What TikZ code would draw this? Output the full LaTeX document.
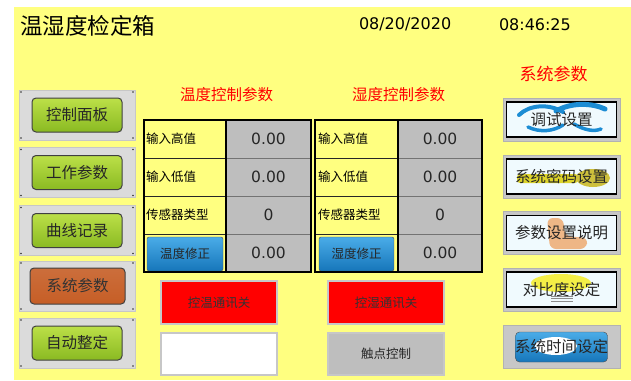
\documentclass[tikz,border=0pt]{standalone}
\usepackage{fontspec}
\usepackage{tikz}
\newfontfamily\cjk{Noto Sans CJK SC}
\newfontfamily\num{DejaVu Sans}
\definecolor{panel}{RGB}{255,255,128}
\definecolor{greenhi}{RGB}{188,224,72}
\definecolor{greenlo}{RGB}{138,186,34}
\definecolor{orangebtn}{RGB}{198,94,38}
\definecolor{bluehi}{RGB}{74,172,232}
\definecolor{bluelo}{RGB}{22,118,186}
\definecolor{cellgray}{RGB}{190,190,190}
\definecolor{olive}{RGB}{206,192,60}
\definecolor{tan}{RGB}{238,182,134}
\definecolor{lamp}{RGB}{244,238,70}
\definecolor{swoosh}{RGB}{28,140,212}

\begin{document}
\begin{tikzpicture}[x=1pt,y=-1pt,
    every node/.style={inner sep=0pt,outer sep=0pt},
    zh/.style={font=\cjk\fontsize{#1}{#1}\selectfont},
    lframe/.style={draw=black!22,fill=black!14,minimum width=116,minimum height=50},
    greenbtn/.style={draw=black!75,line width=1,rounded corners=4,top color=greenhi,bottom color=greenlo,minimum width=90,minimum height=34},
    cellL/.style={draw=black!85,fill=panel,minimum width=82,minimum height=38},
    cellV/.style={draw=black!55,fill=cellgray,minimum width=85,minimum height=38},
    bluebtn/.style={draw=black!70,rounded corners=2,top color=bluehi,bottom color=bluelo,minimum width=76,minimum height=34},
    switchbox/.style={draw=black!22,line width=1.2,minimum width=116,minimum height=43},
    rframe/.style={draw=black!30,fill=black!22,minimum width=117,minimum height=43},
    rinner/.style={draw=black,line width=1.8,fill=white!94!cyan,minimum width=110,minimum height=35},
    value/.style={font=\num\fontsize{15.5}{16}\selectfont,text=black!85}]

    \fill[white] (0,0) rectangle (631,380);
    \fill[panel] (14,7) rectangle (631,380);
    \useasboundingbox (0,0) rectangle (631,380);

    \node[zh=22.5,anchor=west] (title) at (20,26) {温湿度检定箱};
    \node[font=\num\fontsize{16}{16}\selectfont,anchor=west] (date) at (359,24.5) {08/20/2020};
    \node[font=\num\fontsize{16}{16}\selectfont,anchor=west] (time) at (499,24.5) {08:46:25};

    \node[zh=15.5,text=red] (temphead) at (226.5,95) {温度控制参数};
    \node[zh=15.5,text=red] (humhead) at (398.5,95) {湿度控制参数};
    \node[zh=17,text=red] (syshead) at (553.5,74) {系统参数};

    \foreach \y/\t/\n in {115/控制面板/panel, 172.5/工作参数/work, 230.5/曲线记录/curve, 286/系统参数/sys, 343/自动整定/auto} {
      \node[lframe] (f\n) at (77,\y) {};
      \foreach \a/\s in {north west/{(2,2)},north east/{(-2,2)},south west/{(2,-2)},south east/{(-2,-2)}}
        \fill[black!80] ([shift=\s]f\n.\a) circle (0.9);
    }
    \foreach \y/\t/\n in {115/控制面板/panel, 172.5/工作参数/work, 230.5/曲线记录/curve, 343/自动整定/auto}
      \node[greenbtn,zh=15.5,text=black!85] (b\n) at (77,\y) {\t};
    \node[greenbtn,top color=orangebtn!90!white,bottom color=orangebtn,minimum width=95,minimum height=36,zh=15.5,text=black!80] (bsys) at (77.5,286) {系统参数};

    \foreach \r/\lab/\val in {1/输入高值/0.00, 2/输入低值/0.00, 3/传感器类型/0} {
      \node[cellL] (tl\r) at (185,{101+38*\r}) {};
      \node[zh=12.5,anchor=west] at ([xshift=2]tl\r.west) {\lab};
      \node[cellV,value] (tv\r) at (268.5,{101+38*\r}) {\val};
      \node[cellL,minimum width=83] (hl\r) at (356.5,{101+38*\r}) {};
      \node[zh=12.5,anchor=west] at ([xshift=3]hl\r.west) {\lab};
      \node[cellV,value,minimum width=84] (hv\r) at (440,{101+38*\r}) {\val};
    }
    \node[cellL] (tl4) at (185,253) {};
    \node[cellV,value] (tv4) at (268.5,253) {0.00};
    \node[cellL,minimum width=83] (hl4) at (356.5,253) {};
    \node[cellV,value,minimum width=84] (hv4) at (440,253) {0.00};
    \node[bluebtn,zh=12.5,text=black!85] (tfix) at (185,254) {温度修正};
    \node[bluebtn,minimum width=75,zh=12.5,text=black!85] (hfix) at (356.5,254) {湿度修正};
    \draw[line width=1.6] (tl1.north west) rectangle (tv4.south east);
    \draw[line width=1.6] (hl1.north west) rectangle (hv4.south east);
    \draw[line width=1.2] (tl1.north east) -- (tl4.south east);
    \draw[line width=1.2] (hl1.north east) -- (hl4.south east);

    \node[switchbox,fill=red,zh=12.5,text=black!80] (tcomm) at (219,302.5) {控温通讯关};
    \node[switchbox,fill=red,zh=12.5,text=black!80] (hcomm) at (386,302.5) {控湿通讯关};
    \node[switchbox,fill=white,minimum height=42] (tblank) at (219,354) {};
    \node[switchbox,fill=cellgray,minimum height=42,zh=12.5,text=black!85] (contact) at (386,354) {触点控制};

    \foreach \y/\n in {119.5/debug, 176.5/pass, 233/help, 289.5/bright} {
      \node[rframe] (r\n) at (561.5,\y) {};
      \node[rinner] (r\n in) at (561.5,\y) {};
    }
    \node[rframe] (rclock) at (561.5,347) {};

    \draw[swoosh,line width=4,line cap=round] (519,115) .. controls (530,104) and (550,104) .. (563,112);
    \draw[swoosh,line width=5,line cap=round] (556,111) .. controls (572,102) and (592,103) .. (605,109);
    \draw[swoosh,line width=3.5,line cap=round] (528,127) .. controls (540,133) and (554,131) .. (563,125);
    \draw[swoosh,line width=3.5,line cap=round] (574,124) .. controls (584,130) and (594,132) .. (601,129);
    \fill[olive!70!yellow,rounded corners=3] (517,174) rectangle (578,183);
    \fill[olive] (593,178) ellipse (17 and 9);
    \fill[tan,rounded corners=6] (547,218) -- (563,218) -- (565,236) -- (588,238) -- (586,249) -- (550,249) -- cycle;
    \fill[lamp] (561,283) ellipse (30 and 9);
    \foreach \k in {0,1,2}
      \draw[black!45,line width=1] (551,{296+2.5*\k}) -- (573,{296+2.5*\k});
    \node[draw=black!70,rounded corners=4,top color=bluehi,bottom color=bluelo,minimum width=92,minimum height=30] (rclockbtn) at (561.5,347) {};
    \fill[white] (556,346) ellipse (21 and 9);

    \node[zh=15.5,text=black!85] at (rdebug) {调试设置};
    \node[zh=15.5,text=black!85] at (rpass) {系统密码设置};
    \node[zh=15.5,text=black!85] at (rhelp) {参数设置说明};
    \node[zh=15.5,text=black!85] at (rbright) {对比度设定};
    \node[zh=15.5,text=black!85] at (rclock) {系统时间设定};
\end{tikzpicture}
\end{document}
